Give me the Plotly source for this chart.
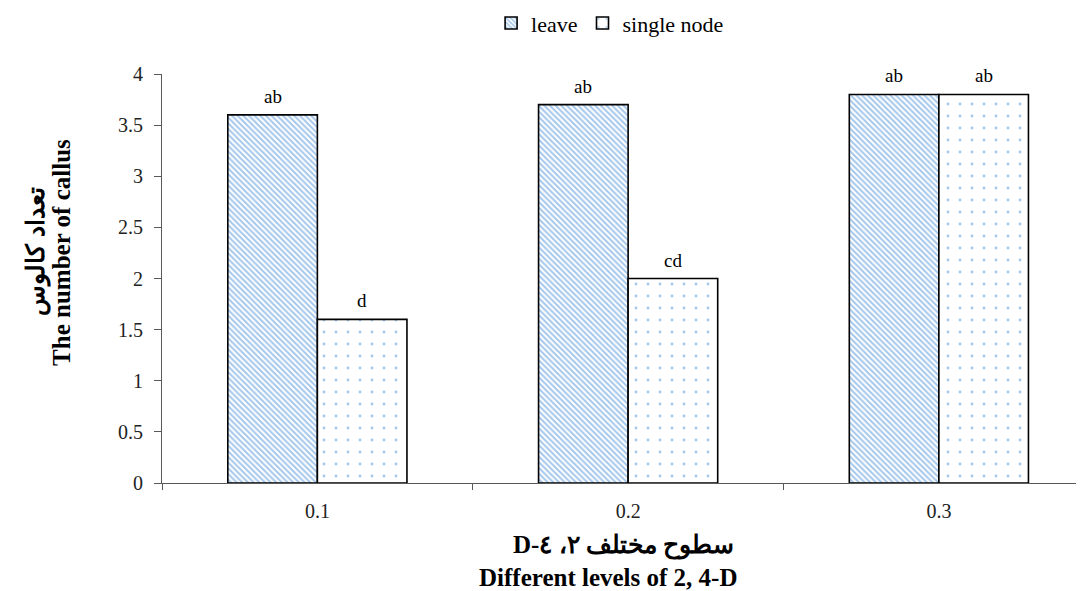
import plotly.graph_objects as go

categories = ["0.1", "0.2", "0.3"]
leave_values = [3.6, 3.7, 3.8]
node_values = [1.6, 2.0, 3.8]
leave_letters = ["ab", "ab", "ab"]
node_letters = ["d", "cd", "ab"]
y_ticks = [0, 0.5, 1, 1.5, 2, 2.5, 3, 3.5, 4]

SERIF = "Liberation Serif, Times New Roman, serif"
BLUE = "#4A8FD8"
AXIS = "#595959"

fig = go.Figure()
fig.add_trace(go.Bar(
    x=categories, y=leave_values, name="leave",
    marker=dict(color="white", line=dict(color="#000", width=1.6),
                pattern=dict(shape="\\", fgcolor=BLUE, bgcolor="white",
                             size=4, solidity=0.5)),
))
fig.add_trace(go.Bar(
    x=categories, y=node_values, name="single node",
    marker=dict(color="white", line=dict(color="#000", width=1.6),
                pattern=dict(shape=".", fgcolor=BLUE, bgcolor="white",
                             size=12, solidity=0.045)),
))

fig.update_layout(
    width=1076, height=583,
    paper_bgcolor="white", plot_bgcolor="white",
    margin=dict(l=154, r=0, t=66, b=108),
    barmode="group", bargap=0.4235, bargroupgap=0,
    font=dict(family=SERIF, size=18, color="#000"),
    legend=dict(orientation="h", x=0.486, xanchor="center",
                y=0.974, yanchor="middle", yref="container",
                font=dict(family=SERIF, size=22), traceorder="normal"),
    showlegend=True,
)
fig.update_xaxes(
    type="category", range=[-0.5, 2.467],
    showline=True, linecolor=AXIS, linewidth=1,
    ticks="outside", tickson="boundaries", ticklen=6, tickcolor=AXIS,
    ticklabelstandoff=10,
    tickfont=dict(family=SERIF, size=20, color="#222"), showgrid=False, zeroline=False,
)
fig.update_yaxes(
    range=[0, 4], tickvals=y_ticks,
    showline=True, linecolor=AXIS, linewidth=1,
    ticks="outside", ticklen=7, tickcolor=AXIS,
    ticklabelstandoff=7,
    tickfont=dict(family=SERIF, size=20, color="#222"), showgrid=False, zeroline=False,
)

# significance letters above bars
half = (1 - 0.4235) / 4
for i, (v, t) in enumerate(zip(leave_values, leave_letters)):
    fig.add_annotation(x=i - half, y=v, text=t, showarrow=False, yanchor="bottom",
                       yshift=6, font=dict(family=SERIF, size=19, color="#000"))
for i, (v, t) in enumerate(zip(node_values, node_letters)):
    fig.add_annotation(x=i + half, y=v, text=t, showarrow=False, yanchor="bottom",
                       yshift=6, font=dict(family=SERIF, size=19, color="#000"))

TITLE_FONT = dict(family=SERIF, size=25, color="#000")
fig.add_annotation(xref="paper", yref="paper", x=-0.136, y=0.565,
                   xanchor="center", yanchor="middle", textangle=-90, showarrow=False,
                   text="<b>تعداد کالوس</b>", font=TITLE_FONT)
fig.add_annotation(xref="paper", yref="paper", x=-0.1085, y=0.565,
                   xanchor="center", yanchor="middle", textangle=-90, showarrow=False,
                   text="<b>The number of callus</b>", font=TITLE_FONT)
fig.add_annotation(xref="paper", yref="paper", x=0.501, y=-0.152,
                   xanchor="center", yanchor="middle", showarrow=False,
                   text="<b>\u202bسطوح مختلف ۲، ٤-D\u202c</b>", font=TITLE_FONT)
fig.add_annotation(xref="paper", yref="paper", x=0.484, y=-0.230,
                   xanchor="center", yanchor="middle", showarrow=False,
                   text="<b>Different levels of 2, 4-D</b>", font=TITLE_FONT)

fig.write_html("out.html")
